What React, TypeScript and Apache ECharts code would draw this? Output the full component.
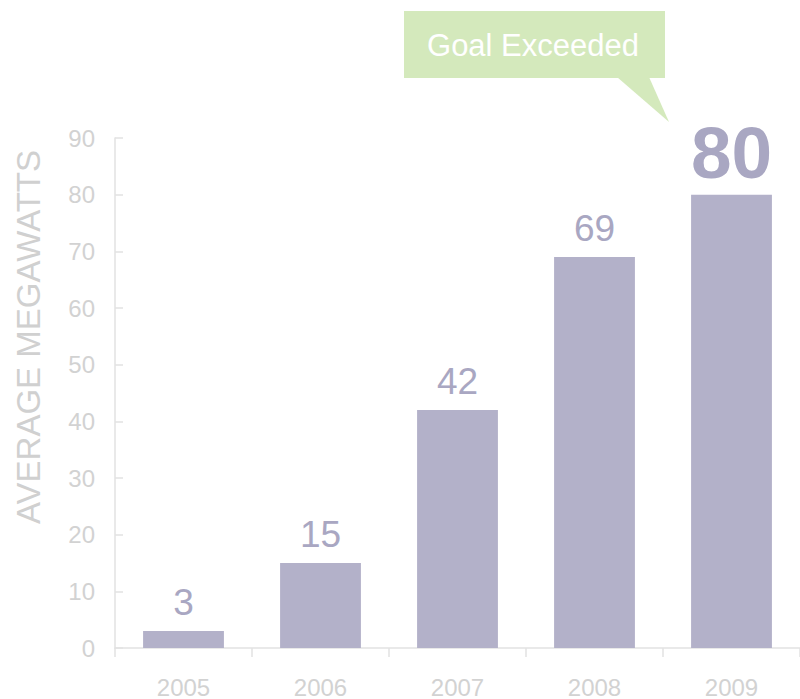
import React, { useEffect, useRef } from "react";
import * as echarts from "echarts";

const categories = ["2005", "2006", "2007", "2008", "2009"];
const values = [3, 15, 42, 69, 80];
const yTicks = [0, 10, 20, 30, 40, 50, 60, 70, 80, 90];
const axisTitle = "AVERAGE MEGAWATTS";
const calloutText = "Goal Exceeded";

const FONT = "'Liberation Sans', Arial, sans-serif";
const BAR = "#b3b1c9";
const LABEL = "#a9a7c2";
const AXIS = "#e2e2e2";
const TICKTXT = "#d2d2d2";

export default function App() {
  const ref = useRef<HTMLDivElement>(null);
  useEffect(() => {
    if (!ref.current) return;
    const chart = echarts.init(ref.current, undefined, { renderer: "svg" });
    const last = values.length - 1;
    chart.setOption({
      animation: false,
      backgroundColor: "#ffffff",
      grid: { left: 115, top: 138, width: 688, bottom: 49, containLabel: false },
      xAxis: {
        type: "category",
        data: categories,
        boundaryGap: true,
        axisLine: { lineStyle: { color: AXIS, width: 1.5 } },
        axisTick: { show: true, length: 9, lineStyle: { color: AXIS, width: 1.5 } },
        axisLabel: { color: TICKTXT, fontSize: 24, fontFamily: FONT, margin: 27 },
      },
      yAxis: {
        type: "value",
        min: yTicks[0],
        max: yTicks[yTicks.length - 1],
        interval: 10,
        axisLine: { show: true, lineStyle: { color: AXIS, width: 1.5 } },
        axisTick: { show: true, inside: true, length: 8, lineStyle: { color: AXIS, width: 1.5 } },
        splitLine: { show: false },
        axisLabel: { color: TICKTXT, fontSize: 24, fontFamily: FONT, margin: 20 },
      },
      series: [
        {
          type: "bar",
          barWidth: "59%",
          data: values.map((v, i) =>
            i === last
              ? {
                  value: v,
                  label: { fontSize: 73, fontWeight: "bold", distance: 6 },
                }
              : v
          ),
          itemStyle: { color: BAR },
          label: {
            show: true,
            position: "top",
            distance: 10,
            color: LABEL,
            fontSize: 37,
            fontFamily: FONT,
          },
        },
      ],
      graphic: [
        {
          type: "text",
          x: 28,
          y: 337,
          rotation: Math.PI / 2,
          style: {
            text: axisTitle,
            fill: "#d0d0d0",
            fontSize: 33,
            fontFamily: FONT,
            align: "center",
            verticalAlign: "middle",
          },
        },
        {
          type: "rect",
          shape: { x: 404, y: 11, width: 261, height: 67 },
          style: { fill: "#d4e9bc" },
        },
        {
          type: "polygon",
          shape: { points: [[617, 77], [649, 77], [669, 122]] },
          style: { fill: "#d4e9bc" },
        },
        {
          type: "text",
          x: 533,
          y: 45,
          style: {
            text: calloutText,
            fill: "#ffffff",
            fontSize: 31,
            fontFamily: FONT,
            align: "center",
            verticalAlign: "middle",
          },
        },
      ],
    });
    return () => chart.dispose();
  }, []);
  return <div ref={ref} style={{ width: 800, height: 699, position: "absolute", left: 0, top: 0 }} />;
}
